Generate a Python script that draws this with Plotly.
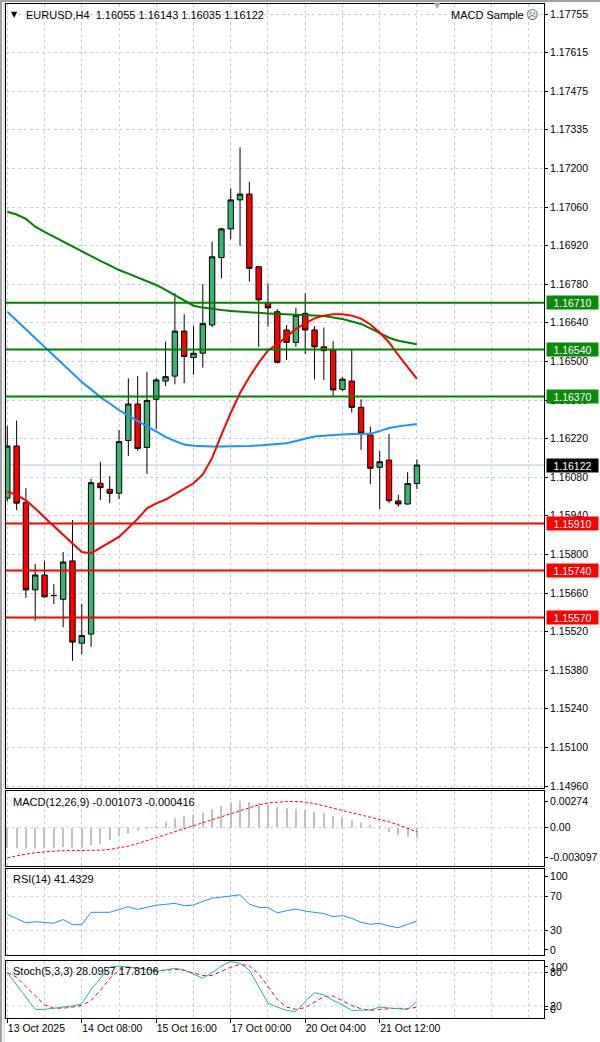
import numpy as np
import plotly.graph_objects as go

# ---------------- data ----------------
bars = list(range(45))
date_ticks = [0, 8, 16, 24, 32, 40]
date_labels = ["13 Oct 2025", "14 Oct 08:00", "15 Oct 16:00", "17 Oct 00:00", "20 Oct 04:00", "21 Oct 12:00"]

open_ = [1.16002, 1.16191, 1.15986, 1.15670, 1.15724, 1.15649, 1.15636, 1.15775, 1.15477, 1.15510,
         1.16056, 1.16034, 1.16020, 1.16211, 1.16343, 1.16186, 1.16360, 1.16426, 1.16444, 1.16607,
         1.16511, 1.16527, 1.16629, 1.16873, 1.16977, 1.17082, 1.17103, 1.16840, 1.16710, 1.16677,
         1.16611, 1.16566, 1.16671, 1.16611, 1.16550, 1.16538, 1.16396, 1.16426, 1.16331, 1.16231,
         1.16114, 1.16140, 1.15992, 1.15981, 1.16055]
high = [1.16263, 1.16283, 1.16038, 1.15764, 1.15776, 1.15691, 1.15807, 1.15923, 1.15619, 1.16072,
        1.16134, 1.16082, 1.16249, 1.16436, 1.16444, 1.16460, 1.16437, 1.16569, 1.16744, 1.16668,
        1.16627, 1.16778, 1.16931, 1.16980, 1.17124, 1.17272, 1.17148, 1.16842, 1.16780, 1.16687,
        1.16629, 1.16692, 1.16744, 1.16625, 1.16620, 1.16571, 1.16440, 1.16539, 1.16360, 1.16261,
        1.16173, 1.16234, 1.16014, 1.16096, 1.16143]
low = [1.15990, 1.15959, 1.15641, 1.15559, 1.15642, 1.15619, 1.15535, 1.15413, 1.15437, 1.15464,
       1.15995, 1.15984, 1.15999, 1.16155, 1.16174, 1.16090, 1.16251, 1.16408, 1.16414, 1.16418,
       1.16449, 1.16475, 1.16622, 1.16798, 1.16939, 1.16916, 1.16786, 1.16550, 1.16623, 1.16490,
       1.16502, 1.16550, 1.16524, 1.16432, 1.16430, 1.16370, 1.16390, 1.16312, 1.16177, 1.16053,
       1.15963, 1.15984, 1.15971, 1.15979, 1.16035]
close = [1.16191, 1.15984, 1.15670, 1.15724, 1.15645, 1.15650, 1.15771, 1.15481, 1.15505, 1.16058,
         1.16040, 1.16020, 1.16207, 1.16343, 1.16182, 1.16356, 1.16430, 1.16442, 1.16607, 1.16515,
         1.16527, 1.16634, 1.16876, 1.16977, 1.17082, 1.17103, 1.16834, 1.16720, 1.16691, 1.16494,
         1.16566, 1.16664, 1.16611, 1.16550, 1.16536, 1.16394, 1.16433, 1.16331, 1.16237, 1.16110,
         1.16134, 1.15993, 1.15981, 1.16055, 1.16122]

ma_green = [1.17039, 1.17029, 1.17013, 1.16985, 1.16966, 1.16948, 1.16931, 1.16913, 1.16894, 1.16878,
            1.16861, 1.16845, 1.16828, 1.16815, 1.16801, 1.16787, 1.16774, 1.16756, 1.16738, 1.16718,
            1.16699, 1.16692, 1.16687, 1.16683, 1.16680, 1.16677, 1.16675, 1.16673, 1.16671, 1.16669,
            1.16667, 1.16665, 1.16664, 1.16663, 1.16662, 1.16657, 1.16651, 1.16642, 1.16633, 1.16617,
            1.16601, 1.16583, 1.16572, 1.16565, 1.16559]
ma_blue = [1.16677, 1.16645, 1.16614, 1.16582, 1.16550, 1.16517, 1.16484, 1.16452, 1.16423, 1.16396,
           1.16368, 1.16345, 1.16321, 1.16301, 1.16282, 1.16262, 1.16242, 1.16224, 1.16209, 1.16196,
           1.16192, 1.16190, 1.16189, 1.16189, 1.16189, 1.16190, 1.16191, 1.16193, 1.16196, 1.16199,
           1.16201, 1.16209, 1.16217, 1.16225, 1.16228, 1.16231, 1.16233, 1.16234, 1.16234, 1.16235,
           1.16245, 1.16256, 1.16262, 1.16267, 1.16271]
ma_red = [1.16026, 1.16014, 1.15994, 1.15965, 1.15932, 1.15901, 1.15872, 1.15840, 1.15807, 1.15803,
          1.15822, 1.15842, 1.15862, 1.15894, 1.15927, 1.15965, 1.15983, 1.15997, 1.16017, 1.16037,
          1.16056, 1.16088, 1.16148, 1.16231, 1.16311, 1.16383, 1.16441, 1.16492, 1.16537, 1.16559,
          1.16587, 1.16615, 1.16635, 1.16653, 1.16663, 1.16668, 1.16668, 1.16663, 1.16652, 1.16631,
          1.16602, 1.16566, 1.16520, 1.16475, 1.16434]

resistance_levels = [1.16710, 1.16540, 1.16370]
support_levels = [1.15910, 1.15740, 1.15570]

price_ticklabels = ["1.14960", "1.15100", "1.15240", "1.15380", "1.15520", "1.15660", "1.15800",
                    "1.15940", "1.16080", "1.16220", "1.16360", "1.16500", "1.16640", "1.16780",
                    "1.16920", "1.17060", "1.17200", "1.17335", "1.17475", "1.17615", "1.17755"]

macd_hist = [-0.00210, -0.00212, -0.00215, -0.00215, -0.00213, -0.00210, -0.00200, -0.00205, -0.00205, -0.00178,
             -0.00165, -0.00127, -0.00090, -0.00060, -0.00030, -0.00010, 0.00020, 0.00062, 0.00097, 0.00115,
             0.00131, 0.00155, 0.00190, 0.00225, 0.00260, 0.00274, 0.00265, 0.00255, 0.00240, 0.00215,
             0.00200, 0.00190, 0.00180, 0.00165, 0.00150, 0.00120, 0.00105, 0.00080, 0.00055, 0.00030,
             0.00010, -0.00045, -0.00075, -0.00095, -0.001073]
macd_signal = [-0.00310, -0.00290, -0.00272, -0.00258, -0.00248, -0.00241, -0.00237, -0.00236, -0.00236, -0.00236,
               -0.00232, -0.00224, -0.00210, -0.00190, -0.00163, -0.00132, -0.00100, -0.00070, -0.00040, -0.00012,
               0.00020, 0.00050, 0.00080, 0.00110, 0.00145, 0.00180, 0.00210, 0.00235, 0.00255, 0.00266,
               0.00270, 0.00270, 0.00264, 0.00248, 0.00225, 0.00200, 0.00178, 0.00158, 0.00135, 0.00112,
               0.00088, 0.00060, 0.00030, -0.00008, -0.000416]
macd_ticks = [0.00274, 0.0, -0.003097]
macd_ticklabels = ["0.00274", "0.00", "-0.003097"]

rsi = [49.3, 44.0, 39.2, 40.6, 40.0, 38.8, 43.2, 37.0, 37.2, 51.6,
       51.6, 51.7, 55.0, 58.2, 55.0, 57.5, 60.0, 61.0, 62.2, 59.4,
       60.2, 64.5, 68.2, 69.5, 70.8, 72.2, 61.3, 57.5, 57.1, 51.0,
       53.5, 55.5, 53.0, 51.5, 50.2, 46.5, 47.8, 44.5, 39.8, 37.5,
       38.7, 35.5, 33.5, 37.5, 41.4329]
rsi_levels = [70, 30]

stoch_main = [80, 58, 35, 14, 14, 16, 18, 20, 24, 50,
              70, 90, 92, 90, 88, 86, 82, 85, 88, 85,
              78, 70, 80, 92, 100, 97, 85, 55, 25, 18,
              12, 10, 28, 44, 40, 30, 22, 12, 12, 13,
              18, 16, 15, 14, 28.0957]
stoch_signal = [80, 72, 55, 38, 22, 16, 16, 18, 21, 30,
                48, 70, 84, 90, 88, 86, 85, 84, 86, 84,
                80, 75, 75, 82, 90, 95, 92, 78, 55, 32,
                18, 14, 17, 27, 37, 38, 30, 21, 15, 12,
                14, 15, 16, 15, 17.8106]
stoch_levels = [80, 20]

# ---------------- layout helpers ----------------
W, H = 600, 1042
FONT = "Liberation Sans, Arial, sans-serif"
GRID = "#c3d0e2"


def py(pix):
    return 1 - pix / H


def px(pix):
    return pix / W


xr = [-0.14, 57.65]
grid_vals = list(range(0, 57, 4))

fig = go.Figure()

# main chart
fig.add_trace(go.Candlestick(
    x=bars, open=open_, high=high, low=low, close=close,
    increasing=dict(fillcolor="#3cb371", line=dict(color="black", width=1)),
    decreasing=dict(fillcolor="#ff0000", line=dict(color="black", width=1)),
    whiskerwidth=0, xaxis="x", yaxis="y", hoverinfo="skip", showlegend=False))
fig.add_trace(go.Scatter(x=bars, y=ma_green, mode="lines", line=dict(color="#008000", width=2),
                         xaxis="x", yaxis="y", hoverinfo="skip", showlegend=False))
fig.add_trace(go.Scatter(x=bars, y=ma_blue, mode="lines", line=dict(color="#1e90ff", width=2),
                         xaxis="x", yaxis="y", hoverinfo="skip", showlegend=False))
fig.add_trace(go.Scatter(x=bars, y=ma_red, mode="lines", line=dict(color="#ff0000", width=2),
                         xaxis="x", yaxis="y", hoverinfo="skip", showlegend=False))

# MACD
fig.add_trace(go.Bar(x=bars, y=macd_hist, width=0.12, marker=dict(color="#c0c0c0", line=dict(width=0)),
                     xaxis="x2", yaxis="y2", hoverinfo="skip", showlegend=False))
fig.add_trace(go.Scatter(x=bars, y=macd_signal, mode="lines",
                         line=dict(color="#ff0000", width=1, dash="3px,2px"),
                         xaxis="x2", yaxis="y2", hoverinfo="skip", showlegend=False))
# RSI
fig.add_trace(go.Scatter(x=bars, y=rsi, mode="lines", line=dict(color="#1e90ff", width=1),
                         xaxis="x3", yaxis="y3", hoverinfo="skip", showlegend=False))
# Stochastic
fig.add_trace(go.Scatter(x=bars, y=stoch_signal, mode="lines",
                         line=dict(color="#ff0000", width=1, dash="4px,3px"),
                         xaxis="x4", yaxis="y4", hoverinfo="skip", showlegend=False))
fig.add_trace(go.Scatter(x=bars, y=stoch_main, mode="lines", line=dict(color="#20b2aa", width=1),
                         xaxis="x5", yaxis="y4", hoverinfo="skip", showlegend=False))

xdom = [px(6), px(544)]
xcommon = dict(domain=xdom, range=xr, tickmode="array", tickvals=grid_vals, showticklabels=False,
               ticks="", showgrid=True, gridcolor=GRID, griddash="3px,3px", gridwidth=1,
               zeroline=False, showline=True, linecolor="black", linewidth=1, mirror=True,
               fixedrange=True, automargin=False)
ycommon = dict(side="right", ticks="outside", ticklen=3, tickcolor="black",
               tickfont=dict(family=FONT, size=10.5, color="black"), zeroline=False,
               showline=True, linecolor="black", linewidth=1, mirror=True, fixedrange=True,
               automargin=False)

main_top, main_bot = 4, 788
macd_top, macd_bot = 791, 866
rsi_top, rsi_bot = 869, 955
st_top, st_bot = 961, 1018

price_tickvals = list(np.linspace(1.14960, 1.17755, 21))

fig.update_layout(
    width=W, height=H, margin=dict(l=0, r=0, t=0, b=0, pad=0, autoexpand=False),
    paper_bgcolor="white", plot_bgcolor="white", hovermode=False,
    boxgap=0.24, boxgroupgap=0.24,
    xaxis=dict(xcommon, anchor="y", rangeslider=dict(visible=False)),
    xaxis2=dict(xcommon, anchor="y2"),
    xaxis3=dict(xcommon, anchor="y3"),
    xaxis4=dict(xcommon, anchor="y4"),
    xaxis5=dict(domain=xdom, range=xr, overlaying="x4", anchor="y4", side="bottom",
                tickmode="array", tickvals=date_ticks, ticktext=date_labels,
                ticks="outside", ticklen=4, tickcolor="black", showgrid=False, showline=False,
                zeroline=False, fixedrange=True, ticklabelposition="outside right",
                automargin=False, tickfont=dict(family=FONT, size=10.5, color="black")),
    yaxis=dict(ycommon, anchor="x", domain=[py(main_bot), py(main_top)],
               range=[1.149528, 1.177912], tickmode="array", tickvals=price_tickvals,
               ticktext=price_ticklabels, showgrid=True, gridcolor=GRID, griddash="3px,3px"),
    yaxis2=dict(ycommon, anchor="x2", domain=[py(macd_bot), py(macd_top)],
                range=[-0.003943, 0.003778], tickmode="array", tickvals=macd_ticks,
                ticktext=macd_ticklabels, showgrid=False),
    yaxis3=dict(ycommon, anchor="x3", domain=[py(rsi_bot), py(rsi_top)],
                range=[1.41, 102.59], tickmode="array", tickvals=[93.5, 70, 30, 7.3],
                ticktext=["100", "70", "30", "0"], showgrid=False),
    yaxis4=dict(ycommon, anchor="x4", domain=[py(st_bot), py(st_top)],
                range=[-1.62, 101.08], tickmode="array", tickvals=[90.3, 80, 20, 14],
                ticktext=["100", "80", "20", "0"], showgrid=False),
)

# level lines in the main chart
for lv in resistance_levels:
    fig.add_shape(type="line", xref="x domain", x0=0, x1=1, yref="y", y0=lv, y1=lv,
                  line=dict(color="#008000", width=2), layer="above")
for lv in support_levels:
    fig.add_shape(type="line", xref="x domain", x0=0, x1=1, yref="y", y0=lv, y1=lv,
                  line=dict(color="#ff0000", width=2), layer="above")
# current bid line
fig.add_shape(type="line", xref="x domain", x0=0, x1=1, yref="y", y0=close[-1], y1=close[-1],
              line=dict(color="#b0c4de", width=1), layer="below")

# indicator level grid lines
fig.add_shape(type="line", xref="x2 domain", x0=0, x1=1, yref="y2", y0=0, y1=0,
              line=dict(color=GRID, width=1, dash="3px,3px"), layer="below")
for lv in rsi_levels:
    fig.add_shape(type="line", xref="x3 domain", x0=0, x1=1, yref="y3", y0=lv, y1=lv,
                  line=dict(color=GRID, width=1, dash="3px,3px"), layer="below")
for lv in stoch_levels:
    fig.add_shape(type="line", xref="x4 domain", x0=0, x1=1, yref="y4", y0=lv, y1=lv,
                  line=dict(color=GRID, width=1, dash="3px,3px"), layer="below")


def price_box(val, color):
    fig.add_annotation(xref="paper", x=px(546), xanchor="left", yref="y", y=val, yanchor="middle",
                       text=f"{val:.5f}", showarrow=False, bgcolor=color, width=49, height=11,
                       borderpad=1, align="center",
                       font=dict(family=FONT, size=10.5, color="white"))


for lv in resistance_levels:
    price_box(lv, "#0a8a0a")
for lv in support_levels:
    price_box(lv, "#ff0000")
price_box(close[-1], "#000000")

# texts
txt_font = dict(family=FONT, size=11, color="black")
fig.add_annotation(xref="paper", yref="paper", x=px(14.5), y=py(14.5), text="▼", showarrow=False,
                   xanchor="center", yanchor="middle", font=dict(family="DejaVu Sans", size=8, color="black"))
fig.add_annotation(xref="paper", yref="paper", x=px(24), y=py(15), xanchor="left", yanchor="middle",
                   showarrow=False, font=txt_font,
                   text=f"EURUSD,H4\u00a0\u00a0{open_[-1]:.5f} {high[-1]:.5f} {low[-1]:.5f} {close[-1]:.5f}")
fig.add_annotation(xref="paper", yref="paper", x=px(526), y=py(15), xanchor="right", yanchor="middle",
                   showarrow=False, font=txt_font, text="MACD Sample")
fig.add_annotation(xref="paper", yref="paper", x=px(532.5), y=py(15), xanchor="center", yanchor="middle",
                   showarrow=False, font=dict(family="DejaVu Sans", size=12, color="#555555"), text="☹")
fig.add_annotation(xref="paper", yref="paper", x=px(437), y=py(5), xanchor="center", yanchor="middle",
                   showarrow=False, font=dict(family="DejaVu Sans", size=8, color="#9aa6b8"), text="▼")
fig.add_annotation(xref="paper", yref="paper", x=px(11), y=py(802), xanchor="left", yanchor="middle",
                   showarrow=False, font=txt_font,
                   text=f"MACD(12,26,9) {macd_hist[-1]:.6f} {macd_signal[-1]:.6f}")
fig.add_annotation(xref="paper", yref="paper", x=px(11), y=py(879), xanchor="left", yanchor="middle",
                   showarrow=False, font=txt_font, text=f"RSI(14) {rsi[-1]:.4f}")
fig.add_annotation(xref="paper", yref="paper", x=px(11), y=py(971), xanchor="left", yanchor="middle",
                   showarrow=False, font=txt_font,
                   text=f"Stoch(5,3,3) {stoch_main[-1]:.4f} {stoch_signal[-1]:.4f}")

# window frame lines
fig.add_shape(type="line", xref="paper", yref="paper", x0=px(1), x1=px(1), y0=0, y1=1,
              line=dict(color="#a0a0a0", width=2))
fig.add_shape(type="line", xref="paper", yref="paper", x0=px(4), x1=px(4), y0=0, y1=1,
              line=dict(color="#c8c8c8", width=1))
fig.add_shape(type="line", xref="paper", yref="paper", x0=0, x1=1, y0=py(1), y1=py(1),
              line=dict(color="#a0a0a0", width=2))

fig.write_html("out.html", config={"displayModeBar": False},
               post_script="document.documentElement.style.margin='0';document.body.style.margin='0';"
                           "document.body.style.overflow='hidden';"
                           "document.documentElement.style.overflow='hidden';")
